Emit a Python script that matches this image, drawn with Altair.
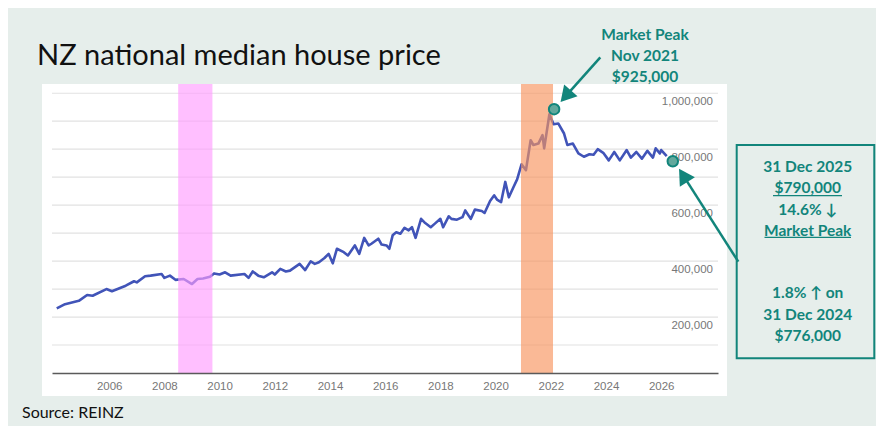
import altair as alt
import pandas as pd

# ---------------- data ----------------
years = [2004.10, 2004.40, 2004.90, 2005.20, 2005.40, 2005.90, 2006.10, 2006.60, 2006.90, 2007.00,
         2007.30, 2007.50, 2007.90, 2008.00, 2008.20, 2008.40, 2008.70, 2009.00, 2009.20, 2009.40,
         2009.65, 2009.80, 2010.00, 2010.20, 2010.40, 2010.90, 2011.05, 2011.20, 2011.40, 2011.60,
         2011.90, 2012.00, 2012.20, 2012.40, 2012.55, 2012.90, 2013.10, 2013.30, 2013.45, 2013.60,
         2013.80, 2013.95, 2014.10, 2014.25, 2014.50, 2014.65, 2014.90, 2015.06, 2015.24, 2015.40,
         2015.50, 2015.75, 2015.87, 2016.05, 2016.15, 2016.27, 2016.40, 2016.55, 2016.70, 2016.85,
         2016.97, 2017.10, 2017.30, 2017.45, 2017.65, 2017.80, 2018.00, 2018.10, 2018.30, 2018.40,
         2018.60, 2018.80, 2018.90, 2019.10, 2019.25, 2019.50, 2019.60, 2019.80, 2019.95, 2020.05,
         2020.20, 2020.35, 2020.48, 2020.65, 2020.78, 2020.94, 2021.10, 2021.27, 2021.37, 2021.55,
         2021.70, 2021.76, 2021.95, 2022.10, 2022.27, 2022.48, 2022.60, 2022.80, 2023.00, 2023.20,
         2023.40, 2023.55, 2023.70, 2023.90, 2024.10, 2024.30, 2024.50, 2024.75, 2024.90, 2025.10,
         2025.30, 2025.50, 2025.70, 2025.80, 2025.95, 2026.00, 2026.20]
prices = [231, 246, 258, 279, 276, 300, 292, 312, 328, 324,
          346, 348, 354, 340, 348, 333, 336, 318, 336, 338,
          344, 356, 352, 360, 348, 354, 340, 363, 348, 342,
          360, 352, 372, 363, 366, 390, 368, 399, 390, 396,
          411, 426, 392, 444, 432, 420, 456, 426, 483, 456,
          462, 480, 459, 456, 444, 492, 503, 498, 519, 510,
          521, 483, 551, 536, 521, 534, 551, 521, 560, 551,
          548, 557, 581, 551, 584, 579, 572, 615, 635, 620,
          611, 683, 628, 665, 692, 746, 725, 832, 815, 820,
          850, 803, 925, 889, 892, 856, 815, 820, 785, 773,
          782, 780, 800, 787, 760, 790, 760, 797, 770, 790,
          766, 794, 770, 803, 785, 797, 775]
prices = [p * 1000 for p in prices]

gfc_band = [2008.50, 2009.74]
covid_band = [2020.92, 2022.08]
marker_years = [2022.12, 2026.42]
marker_values = [943000, 757000]
grid_values = [100000 * i for i in range(1, 11)]
y_label_values = [200000, 400000, 600000, 800000, 1000000]
x_tick_years = list(range(2006, 2027, 2))

title_text = "NZ national median house price"
source_text = "Source: REINZ"
peak_lines = ["Market Peak", "Nov 2021", "$925,000"]
box_lines = ["31 Dec 2025", "$790,000", "14.6% \u2193", "Market Peak",
             "1.8% \u2191 on", "31 Dec 2024", "$776,000"]

# ---------------- styling ----------------
W, H = 666, 289
X_DOMAIN = [2003.928, 2028.058]
Y_DOMAIN = [0, 1033000]
TEAL = "#12857b"
BG = "#e6eeeb"
LINE = "#4154b8"
FONT = "Lato"

x_axis = alt.Axis(values=x_tick_years, format="d", title=None, grid=False, ticks=False,
                  domain=True, domainColor="#5a5a5a", domainWidth=1.5,
                  labelColor="#777777", labelFont="Liberation Sans", labelFontSize=11.5,
                  labelPadding=7, zindex=1)


def xenc(field):
    return alt.X(field, type="quantitative",
                 scale=alt.Scale(domain=X_DOMAIN, nice=False, zero=False), axis=x_axis)


def yenc(field):
    return alt.Y(field, type="quantitative",
                 scale=alt.Scale(domain=Y_DOMAIN, nice=False), axis=None)


one = pd.DataFrame({"k": [0]})

panel = alt.Chart(one).mark_rect(color="white").encode(
    x=alt.value(-10), x2=alt.value(675), y=alt.value(0), y2=alt.value(312))

grid = alt.Chart(pd.DataFrame({"g": grid_values})).mark_rule(
    color="#e2e2e2", strokeWidth=1.2).encode(y=yenc("g"))

ylabels = alt.Chart(pd.DataFrame({"v": y_label_values})).mark_text(
    align="right", baseline="middle", dy=9, font="Liberation Sans", fontSize=11.5,
    color="#777777").encode(x=alt.value(661), y=yenc("v"), text=alt.Text("v:Q", format=","))

line = alt.Chart(pd.DataFrame({"year": years, "price": prices})).mark_line(
    color=LINE, strokeWidth=2.6, strokeJoin="round").encode(x=xenc("year"), y=yenc("price"))

bands = alt.Chart(pd.DataFrame({"start": [gfc_band[0], covid_band[0]],
                                "end": [gfc_band[1], covid_band[1]],
                                "c": ["#ff9cff", "#f7945e"]})).mark_rect(opacity=0.65).encode(
    x=xenc("start"), x2="end", color=alt.Color("c:N", scale=None))

dots = alt.Chart(pd.DataFrame({"my": marker_years, "mv": marker_values})).mark_point(
    shape="circle", filled=True, size=110, fill="#62a89c", stroke=TEAL, strokeWidth=2,
    opacity=1).encode(x=xenc("my"), y=yenc("mv"))


def rule(x1, y1, x2, y2, w=2.5):
    return alt.Chart(one).mark_rule(color=TEAL, strokeWidth=w).encode(
        x=alt.value(x1), y=alt.value(y1), x2=alt.value(x2), y2=alt.value(y2))


def head(x, y, ang):
    return alt.Chart(one).mark_point(shape="triangle-up", filled=True, size=320, angle=ang,
                                     color=TEAL, opacity=1).encode(x=alt.value(x), y=alt.value(y))


def text(t, x, y, size=15.5, weight="bold", color=TEAL, align="center", font=FONT,
         baseline="middle"):
    return alt.Chart(pd.DataFrame({"t": [t]})).mark_text(
        text=t, align=align, baseline=baseline, font=font, fontSize=size, fontWeight=weight,
        color=color).encode(x=alt.value(x), y=alt.value(y))


layers = [panel, grid, ylabels, line, bands, dots,
          rule(548.3, -26.7, 513.7, 12.2), head(513.7, 12.2, 221.5),
          rule(686.3, 177.7, 631.2, 91.4), head(631.2, 91.4, 327.5)]

# box
layers.append(alt.Chart(one).mark_rect(fillOpacity=0, stroke=TEAL, strokeWidth=2).encode(
    x=alt.value(684.7), x2=alt.value(822.3), y=alt.value(61), y2=alt.value(274.3)))

box_y = [83.3, 103.7, 126, 146.7, 209.3, 231, 252]
for t, yy in zip(box_lines, box_y):
    layers.append(text(t, 755.7, yy))
layers.append(rule(721, 111.7, 790, 111.7, 1.2))
layers.append(rule(712.5, 153.3, 799, 153.3, 1.2))

for t, yy in zip(peak_lines, [-49, -28, -7]):
    layers.append(text(t, 593, yy))

layers.append(text(title_text, -15, -19, size=29, weight="normal", color="#111111",
                   align="left", baseline="alphabetic"))
layers.append(text(source_text, -30, 328.5, size=16, weight="normal", color="#111111",
                   align="left"))

chart = alt.layer(*layers).properties(
    width=W, height=H,
    autosize=alt.AutoSizeParams(type="none"),
    padding={"left": 44, "top": 76, "right": 158, "bottom": 53},
    background=BG,
).configure_view(stroke=None)

chart.save("out.html", embed_options={"renderer": "svg", "actions": False})
